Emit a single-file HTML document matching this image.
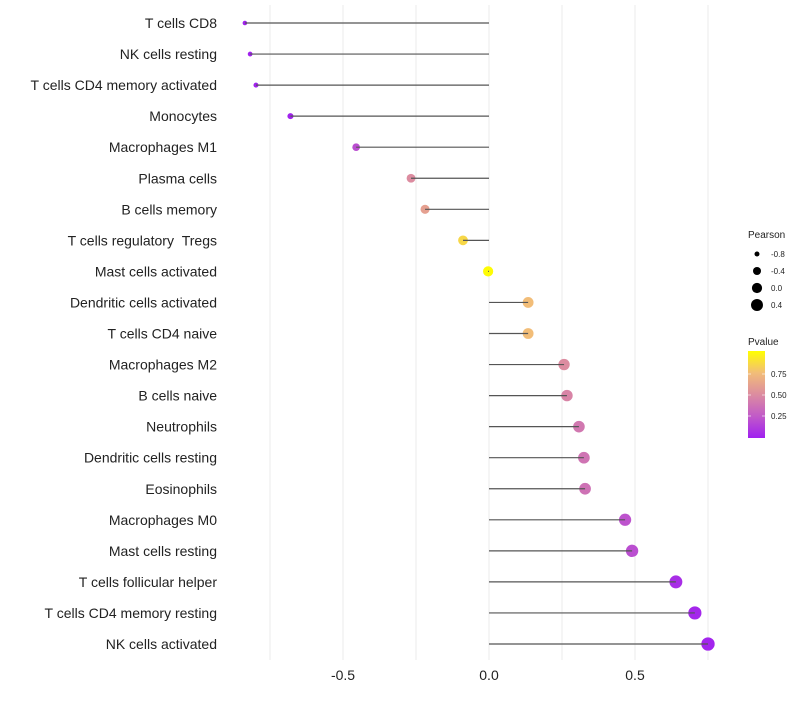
<!DOCTYPE html>
<html><head><meta charset="utf-8"><style>
body{margin:0;background:#fff;font-family:"Liberation Sans",sans-serif}
</style></head><body>
<svg id="chart" width="800" height="700" xmlns="http://www.w3.org/2000/svg"></svg>
<script>
const categories=["T cells CD8","NK cells resting","T cells CD4 memory activated","Monocytes","Macrophages M1","Plasma cells","B cells memory","T cells regulatory \u00a0Tregs","Mast cells activated","Dendritic cells activated","T cells CD4 naive","Macrophages M2","B cells naive","Neutrophils","Dendritic cells resting","Eosinophils","Macrophages M0","Mast cells resting","T cells follicular helper","T cells CD4 memory resting","NK cells activated"];
const pearson=[-0.836,-0.818,-0.798,-0.68,-0.455,-0.267,-0.219,-0.089,-0.003,0.134,0.134,0.257,0.267,0.308,0.325,0.329,0.466,0.49,0.64,0.705,0.75];
const pvalues=[0.01,0.01,0.01,0.01,0.2,0.5,0.6,0.85,0.99,0.75,0.75,0.5,0.46,0.4,0.38,0.37,0.22,0.2,0.06,0.03,0.02];
const xTicks=[-0.5,0,0.5];
const xTickLabels=["-0.5","0.0","0.5"];
const gridVals=[-0.75,-0.5,-0.25,0,0.25,0.5,0.75];
const sizeLegend=[-0.8,-0.4,0.0,0.4];
const sizeLegendLabels=["-0.8","-0.4","0.0","0.4"];
const colorLegendTicks=[0.25,0.5,0.75];
const colorLegendLabels=["0.25","0.50","0.75"];

const NS="http://www.w3.org/2000/svg";
const svg=document.getElementById('chart');
const X=v=>489+v*292;
const Y=i=>23+i*31.05;
const R=v=>Math.sqrt(Math.max(1,26+24.8*v));
const stops=[[0,[160,32,240]],[0.25,[193,90,200]],[0.5,[220,140,160]],[0.75,[242,189,120]],[1,[255,255,0]]];
function col(p){for(let k=0;k<stops.length-1;k++){const a=stops[k],b=stops[k+1];if(p<=b[0]){const t=(p-a[0])/(b[0]-a[0]);const c=a[1].map((x,j)=>Math.round(x+(b[1][j]-x)*t));return `rgb(${c})`;}}return 'rgb(255,255,0)';}
function el(tag,attrs,txt){const e=document.createElementNS(NS,tag);for(const k in attrs)e.setAttribute(k,attrs[k]);if(txt!==undefined)e.textContent=txt;svg.appendChild(e);return e;}

gridVals.forEach(v=>{const g=el('line',{x1:X(v),x2:X(v),y1:5,y2:660,stroke:'#ebebeb','stroke-width':1});

});
xTicks.forEach((v,i)=>{const t=el('text',{x:X(v),y:680,'font-size':14,'text-anchor':'middle',fill:'#222'},xTickLabels[i]);

});
categories.forEach((c,i)=>{
const t=el('text',{x:217,y:Y(i)+5,'font-size':14,'text-anchor':'end',fill:'#222'},c);


const p=el('circle',{cx:X(pearson[i]),cy:Y(i),r:R(pearson[i]),fill:col(pvalues[i])});


const s=el('line',{x1:X(0),x2:X(pearson[i]),y1:Y(i),y2:Y(i),stroke:'#555','stroke-width':1.2});


});
const lt=el('text',{x:748,y:238,'font-size':10,fill:'#222'},'Pearson');


sizeLegend.forEach((v,i)=>{const y=254+i*17;
const c=el('circle',{cx:757,cy:y,r:R(v),fill:'#000'});


const t=el('text',{x:771,y:y+3,'font-size':8,fill:'#222'},sizeLegendLabels[i]);

});
const ct=el('text',{x:748,y:345,'font-size':10,fill:'#222'},'Pvalue');


const defs=el('defs',{});
const lg=document.createElementNS(NS,'linearGradient');lg.setAttribute('id','pg');lg.setAttribute('x1',0);lg.setAttribute('x2',0);lg.setAttribute('y1',1);lg.setAttribute('y2',0);
stops.forEach(s=>{const st=document.createElementNS(NS,'stop');st.setAttribute('offset',s[0]);st.setAttribute('stop-color',`rgb(${s[1]})`);lg.appendChild(st);});
defs.appendChild(lg);
const cb=el('rect',{x:748,y:351,width:17,height:87,fill:'url(#pg)'});


const CY=v=>437-v*84;
colorLegendTicks.forEach((v,i)=>{
el('line',{x1:748,x2:751,y1:CY(v),y2:CY(v),stroke:'#fff','stroke-opacity':0.6});
el('line',{x1:762,x2:765,y1:CY(v),y2:CY(v),stroke:'#fff','stroke-opacity':0.6});
const t=el('text',{x:771,y:CY(v)+3,'font-size':8,fill:'#222'},colorLegendLabels[i]);

});
</script>
</body></html>
